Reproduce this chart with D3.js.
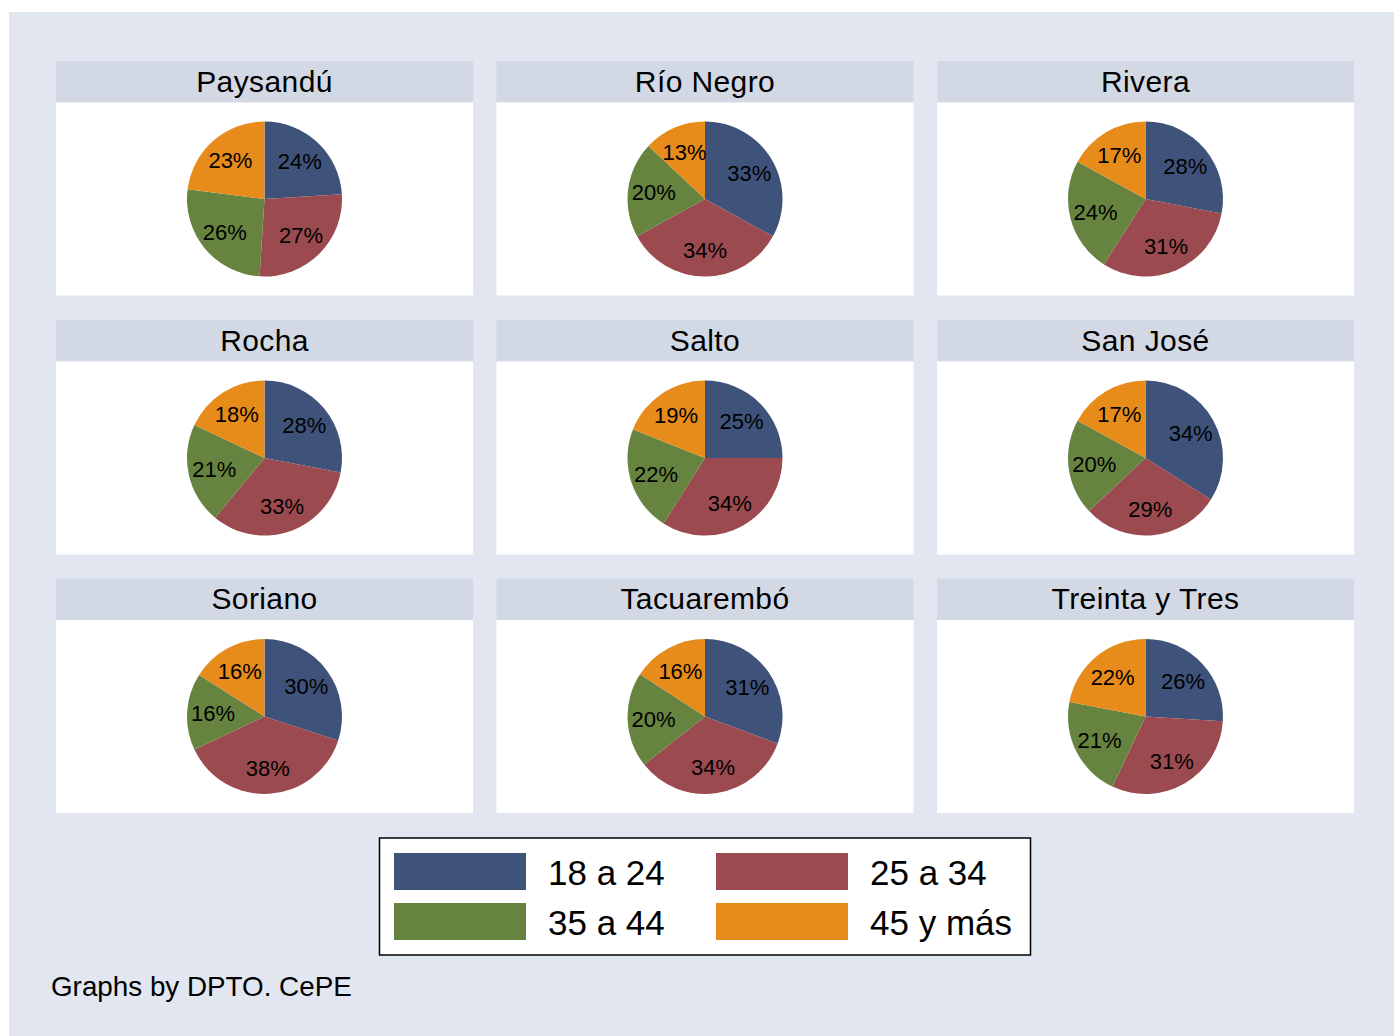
<!DOCTYPE html>
<html>
<head>
<meta charset="utf-8">
<script src="https://cdn.jsdelivr.net/npm/d3@7"></script>
<style>
  body { margin: 0; background: #fff; }
  text { font-family: "Liberation Sans", Arial, sans-serif; fill: #000; }
</style>
</head>
<body>
<div id="chart"></div>
<script>
// departments (panel titles) and share of each age group, in %
var depts = ["Paysandú", "Río Negro", "Rivera", "Rocha", "Salto", "San José",
             "Soriano", "Tacuarembó", "Treinta y Tres"];
var groups = ["18 a 24", "25 a 34", "35 a 44", "45 y más"];
var age18_24 = [24, 33, 28, 28, 25, 34, 30, 31, 26];
var age25_34 = [27, 34, 31, 33, 34, 29, 38, 34, 31];
var age35_44 = [26, 20, 24, 21, 22, 20, 16, 20, 21];
var age45    = [23, 13, 17, 18, 19, 17, 16, 16, 22];
var footnote = "Graphs by DPTO. CePE";

var colors = ["#3e527a", "#9b4a50", "#66843f", "#e78b1b"];

var W = 1394, H = 1036;
var svg = d3.select("#chart").append("svg")
    .attr("width", W).attr("height", H);

// graph region background
svg.append("rect")
    .attr("x", 9).attr("y", 12)
    .attr("width", W - 9).attr("height", H - 12)
    .attr("fill", "#e1e6f0");

// panel grid
var colX = [56, 496.5, 937], rowY = [61, 320, 578.5];
var panelW = 417, headH = 41.5, plotH = 193, r = 77.5;

var color = d3.scaleOrdinal().domain(groups).range(colors);
var pie = d3.pie().sort(null).value(function(d) { return d.v; });
var arc = d3.arc().innerRadius(0).outerRadius(r);
var labelArc = d3.arc().innerRadius(r * 0.665).outerRadius(r * 0.665);

depts.forEach(function(name, i) {
    var x0 = colX[i % 3], y0 = rowY[Math.floor(i / 3)];
    var g = svg.append("g").attr("transform", "translate(" + x0 + "," + y0 + ")");

    // header band
    g.append("rect")
        .attr("width", panelW).attr("height", headH)
        .attr("fill", "#d3d9e4");
    g.append("text")
        .attr("x", panelW / 2).attr("y", 30.5)
        .attr("text-anchor", "middle")
        .style("font-size", "30px")
        .style("letter-spacing", "0.4px")
        .text(name);

    // plot region
    g.append("rect")
        .attr("y", headH)
        .attr("width", panelW).attr("height", plotH)
        .attr("fill", "#ffffff");

    var vals = [age18_24[i], age25_34[i], age35_44[i], age45[i]];
    var data = groups.map(function(k, j) { return {k: k, v: vals[j]}; });
    var total = d3.sum(vals);

    var p = g.append("g")
        .attr("transform", "translate(" + (panelW / 2) + "," + (headH + plotH / 2) + ")");
    var arcs = pie(data);

    p.selectAll("path")
        .data(arcs)
        .enter().append("path")
        .attr("d", arc)
        .attr("fill", function(d) { return color(d.data.k); });

    p.selectAll("text")
        .data(arcs)
        .enter().append("text")
        .attr("transform", function(d) { return "translate(" + labelArc.centroid(d) + ")"; })
        .attr("text-anchor", "middle")
        .attr("dy", "0.36em")
        .style("font-size", "22px")
        .text(function(d) { return Math.round(d.data.v / total * 100) + "%"; });
});

// legend
var leg = svg.append("g");
leg.append("rect")
    .attr("x", 379.5).attr("y", 838)
    .attr("width", 651).attr("height", 117)
    .attr("fill", "#fff")
    .attr("stroke", "#000").attr("stroke-width", 1.5);

var legX = [394, 716], legY = [853, 903];
groups.forEach(function(k, j) {
    var lx = legX[j % 2], ly = legY[Math.floor(j / 2)];
    leg.append("rect")
        .attr("x", lx).attr("y", ly)
        .attr("width", 132).attr("height", 37)
        .attr("fill", color(k));
    leg.append("text")
        .attr("x", lx + 154).attr("y", ly + 32)
        .style("font-size", "35px")
        .text(k);
});

svg.append("text")
    .attr("x", 51).attr("y", 996)
    .style("font-size", "27.8px")
    .text(footnote);
</script>
</body>
</html>
